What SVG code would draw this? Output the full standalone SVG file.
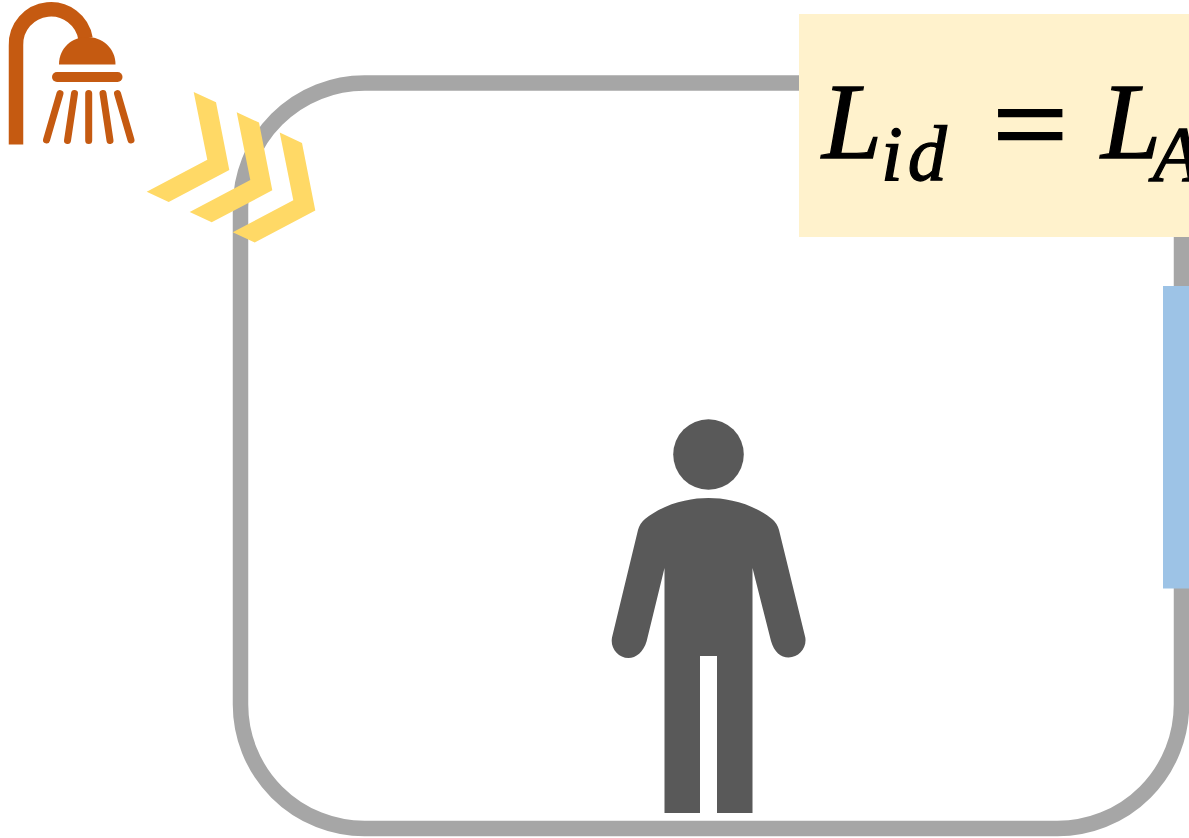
<svg xmlns="http://www.w3.org/2000/svg" width="1189" height="838" viewBox="0 0 1189 838">
<style>
.eq{font-family:"Liberation Serif","DejaVu Serif",serif;font-style:italic;fill:#000;stroke:#000;stroke-width:1.300}
.spray{stroke:#C55A11;stroke-width:7;stroke-linecap:round;fill:none}
.chev{fill:#FFD966}
</style>
<defs><polygon id="chevron" class="chev" points="193.7,92 216,102.3 229.3,170 168.7,202 146.7,191.7 207.3,159.7"/></defs>
<rect width="1189" height="838" fill="#fff"/>
<g id="room"><rect x="240.500" y="83" width="941" height="745.500" rx="124" ry="124" fill="#fff" stroke="#A6A6A6" stroke-width="15.500"/></g>
<g id="window"><rect x="1163" y="286" width="26" height="302.500" fill="#9DC3E6"/></g>
<g id="shower">
<path d="M16 144.500V45.500A35 35 0 0 1 85.500 38.500" fill="none" stroke="#C55A11" stroke-width="14.500"/>
<path d="M59 64.500C59 48 72 37 87 37C102 37 115.500 48 115.500 64.500Z" fill="#C55A11"/>
<rect x="52" y="72" width="70.500" height="10" rx="5" fill="#C55A11"/>
<path class="spray" d="M60 93.500L46.500 140M74.500 93.500L67.500 140.500M88.700 93.500V140.500M103 93.500L110 140.500M117.500 93.500L131 140"/>
</g>
<g id="flow">
<use href="#chevron"/>
<use href="#chevron" x="43" y="20.300"/>
<use href="#chevron" x="86" y="40.600"/>
</g>
<g id="person" fill="#595959">
<circle cx="708.500" cy="454.500" r="35.300"/>
<path d="M664.500 813V568L646.700 641C643.500 652 636 658 628.500 658C618 658 610 648 612 637.500L638 530Q640 523 645 519C665 503 690 498 708.500 498C727 498 752 503 772 519Q777 523 779 530L805.300 637.500C807 648 799 657.500 788.500 657.500C781 657.500 774 652 771 641L752.500 568V813H717V656H700V813Z"/>
</g>
<g id="formula">
<rect x="799" y="14" width="390" height="223" fill="#FFF2CC"/>
<text class="eq" x="822" y="158" font-size="108">L</text>
<text class="eq" x="881" y="180" font-size="78" letter-spacing="5">id</text>
<text transform="translate(993 163) scale(1.22 1.05)" x="0" y="0" font-size="108" font-family="Liberation Serif, serif" stroke="#000" stroke-width="2.500">=</text>
<text class="eq" x="1101" y="158" font-size="108">L</text>
<text class="eq" x="1153" y="180" font-size="78">A</text>
</g>
</svg>
